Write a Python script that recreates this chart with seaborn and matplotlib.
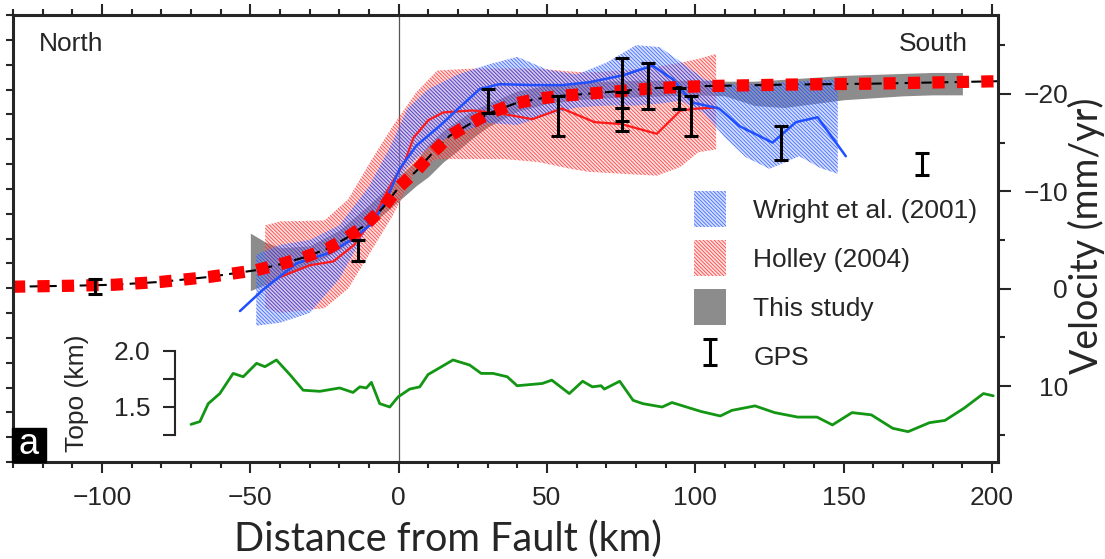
import numpy as np
import pandas as pd
import seaborn as sns
import matplotlib.pyplot as plt
from matplotlib.patches import Patch, Rectangle
from matplotlib.ticker import MultipleLocator

# model curve (black dashed line + red squares), velocity in mm/yr
model_x = [-130, -110, -96, -80, -64, -48, -40, -32, -24, -17.6, -11, -5.3, 0, 6, 11.6,
           17.2, 23.9, 31.2, 39.1, 47, 54.8, 63.2, 71, 86.8, 103, 130, 160, 202]
model_v = [-0.2, -0.3, -0.4, -0.7, -1.2, -1.9, -2.5, -3.2, -4.1, -5.2, -6.6, -8.3, -10.4, -12.1, -14.0,
           -15.7, -16.9, -18.1, -19.0, -19.5, -19.8, -20.0, -20.2, -20.6, -20.8, -20.95, -21.05, -21.3]

# "This study" grey band
study_x = [-50, -45, -40, -30, -20, -10, 0, 6, 10, 15, 20, 25, 30, 40, 50, 60, 70, 80, 90,
           100, 110, 120, 130, 140, 150, 160, 170, 180, 190]
study_hi = [-5.7, -4.8, -4.2, -4.4, -6.0, -8.6, -11.5, -13.2, -14.8, -16.2, -17.3, -18.3, -19.0, -20.3,
            -20.9, -21.2, -21.3, -21.4, -21.4, -21.4, -21.3, -21.3, -21.5, -21.7, -21.9, -22.0, -22.1, -22.2, -22.2]
study_lo = [0.2, -0.4, -1.1, -2.4, -4.0, -6.4, -9.0, -10.6, -11.5, -13.0, -14.2, -15.5, -16.6, -18.2,
            -19.0, -19.4, -19.6, -19.7, -19.8, -19.9, -19.8, -18.8, -18.6, -19.0, -19.4, -19.6, -19.8, -19.9, -19.9]

# Wright et al. (2001)
wright_x = [-48, -40, -30, -20, -10, -3, 3, 10, 20, 30, 40, 50, 60, 70, 80, 88, 95, 103,
            110, 117, 125, 135, 142, 148]
wright_hi = [-3.5, -4.5, -5.0, -6.5, -10.5, -14.5, -18.5, -20.5, -22.0, -23.0, -23.8, -22.5, -22.0,
             -23.2, -25.0, -24.8, -23.3, -21.5, -21.0, -21.0, -21.1, -21.3, -21.4, -21.5]
wright_lo = [3.8, 3.5, 2.5, -1.0, -6.5, -10.0, -12.5, -14.5, -16.0, -17.0, -16.8, -17.8, -18.6,
             -18.8, -18.8, -19.0, -19.3, -18.0, -15.5, -13.5, -12.3, -13.6, -12.4, -11.8]
wright_line_x = [-53.5, -45.7, -34.4, -23.2, -15.4, -8.6, -4.1, 0.3, 6, 13.8, 20.5, 27.3, 34, 45.2,
                 55.3, 64.3, 75.5, 85.6, 92.4, 99.1, 108, 114.8, 126, 133.9, 141.2, 150.7]
wright_line_v = [2.3, 0.1, -2.6, -3.7, -5.1, -6.8, -9.2, -12.3, -14.7, -16.7, -18.6, -20.5, -21.0, -20.9,
                 -20.9, -21.2, -21.9, -22.9, -21.5, -19.1, -18.5, -16.7, -15.0, -17.1, -17.6, -13.6]

# Holley (2004)
holley_x = [-45, -40, -25, -17, -9, -2, 6, 13, 25, 36, 47, 58, 64, 75, 87, 95, 101, 107]
holley_hi = [-6.5, -6.9, -7.0, -9.2, -13.3, -16.7, -20.2, -22.4, -22.6, -22.6, -22.6, -22.3, -22.2,
             -22.4, -22.8, -23.2, -23.6, -24.1]
holley_lo = [2.0, 2.5, 2.0, 0.0, -4.0, -7.5, -12.3, -13.3, -13.3, -13.3, -13.0, -12.3, -12.0,
             -11.8, -11.6, -12.5, -14.0, -14.3]
holley_line_x = [-40, -30, -22, -15, -8, -3, 2, 5, 10, 15, 25, 36, 45, 55, 66, 75, 87, 95, 101, 107]
holley_line_v = [-1.2, -2.4, -2.8, -4.5, -7.5, -10.5, -13.0, -15.5, -17.3, -18.1, -18.3, -17.9, -17.4,
                 -18.5, -17.1, -16.9, -15.9, -18.3, -18.5, -18.6]

# GPS velocities
gps_x = [-102.4, -13.7, 30.1, 53.7, 75.3, 75.3, 75.3, 84.0, 94.6, 98.5, 128.8, 176.3]
gps_v = [-0.2, -3.9, -19.25, -17.75, -21.1, -18.2, -17.85, -20.8, -19.5, -17.75, -14.95, -12.8]
gps_err = [0.8, 1.1, 1.25, 2.05, 2.6, 2.0, 0.65, 2.4, 1.1, 2.05, 1.75, 1.1]

# topography profile (km)
topo_x = [-70, -67, -64.2, -60.3, -55.8, -52.4, -47.9, -45.1, -41.2, -36.7, -32.2, -26.6, -19.9, -15.4,
          -13.1, -10.9, -9.2, -6.4, -3.0, -0.2, 3.7, 7.1, 9.9, 13.8, 18.3, 23.9, 27.8, 31.8, 36.6, 39.9,
          48.4, 51.6, 57.5, 62.0, 65.3, 68.2, 69.3, 74.5, 79.0, 82.3, 88.8, 92.1, 101.9, 108.4, 112.3,
          120.1, 126.7, 134.5, 141.0, 146.2, 152.8, 159.3, 166.5, 171.7, 178.9, 184.1, 190.6, 197.1, 200.4]
topo_e = [1.345, 1.37, 1.53, 1.62, 1.80, 1.77, 1.89, 1.86, 1.92, 1.79, 1.65, 1.64, 1.67, 1.63,
          1.68, 1.67, 1.72, 1.53, 1.50, 1.59, 1.66, 1.68, 1.79, 1.85, 1.92, 1.875, 1.80, 1.80, 1.77, 1.69,
          1.71, 1.74, 1.62, 1.73, 1.68, 1.69, 1.66, 1.73, 1.56, 1.53, 1.50, 1.54, 1.46, 1.42, 1.47,
          1.51, 1.45, 1.41, 1.41, 1.34, 1.45, 1.43, 1.31, 1.28, 1.36, 1.38, 1.49, 1.62, 1.60]

vel_ticks = [-20, -10, 0, 10]
topo_ticks = [1.25, 1.5, 1.75, 2.0]
topo_labels = ['', '1.5', '', '2.0']

sns.set_style("ticks")
plt.rcParams['font.family'] = ['Liberation Sans', 'DejaVu Sans']
plt.rcParams['hatch.linewidth'] = 0.6

W, H = 1105, 559
fig = plt.figure(figsize=(W / 100, H / 100), dpi=100)

def fx(px):
    return px / W

def fy(py):
    return 1 - py / H

ax = fig.add_axes([fx(13), fy(462), fx(998 - 13), (462 - 15) / H])
ax_t = ax.twinx()   # topography
ax_l = ax.twinx()   # left minor ticks + frame

blue_face = (0.55, 0.62, 1.0, 0.35)
blue_hatch = (0.0, 0.25, 1.0, 0.7)
red_face = (1.0, 0.6, 0.6, 0.3)
red_hatch = (1.0, 0.0, 0.0, 0.7)
hatch = '\\' * 9

ax.axvline(0, color='#555555', lw=0.9, zorder=0.5)
ax.fill_between(study_x, study_hi, study_lo, color='#8c8c8c', lw=0, zorder=1)
ax.fill_between(holley_x, holley_hi, holley_lo, facecolor=red_face, edgecolor=red_hatch,
                hatch=hatch, lw=0, zorder=2)
ax.fill_between(wright_x, wright_hi, wright_lo, facecolor=blue_face, edgecolor=blue_hatch,
                hatch=hatch, lw=0, zorder=3)
sns.lineplot(x=holley_line_x, y=holley_line_v, ax=ax, color='#ff1a1a', lw=1.6, zorder=4)
sns.lineplot(x=wright_line_x, y=wright_line_v, ax=ax, color='#1f4fff', lw=1.8, zorder=5)
sns.lineplot(x=model_x, y=model_v, ax=ax, color='k', lw=1.5, linestyle=(0, (5, 3)), zorder=6)
sns.lineplot(x=model_x, y=model_v, ax=ax, color='#ff0000', lw=8.8, linestyle=(0, (1, 1)), zorder=7)
gps = ax.errorbar(gps_x, gps_v, yerr=gps_err, fmt='none', ecolor='k', elinewidth=2.2,
                  capsize=4.7, capthick=2.2, zorder=8, label='GPS')

ax.set_xlim(-130, 202)
ax.set_ylim(17.8, -28.1)
ax.xaxis.set_major_locator(MultipleLocator(50))
ax.xaxis.set_minor_locator(MultipleLocator(10))
ax.tick_params(axis='x', which='both', top=True, bottom=True, direction='out', width=1.5,
               labelsize=19, pad=9)
ax.tick_params(axis='x', which='major', length=8)
ax.tick_params(axis='x', which='minor', length=4.3)

ax.yaxis.tick_right()
ax.set_yticks(vel_ticks)
ax.yaxis.set_minor_locator(MultipleLocator(5))
ax.tick_params(axis='y', which='both', left=False, right=True, direction='out', width=1.5,
               labelsize=19)
ax.tick_params(axis='y', which='major', length=9.4, pad=41)
ax.tick_params(axis='y', which='minor', length=5)
for s in ax.spines.values():
    s.set_visible(False)

sns.lineplot(x=topo_x, y=topo_e, ax=ax_t, color='#139613', lw=2)
ax_t.set_ylim(1.009, 5.0)
ax_t.axis('off')

ax_l.set_ylim(0, 18)
ax_l.set_yticks(range(19))
ax_l.yaxis.set_ticks_position('left')
ax_l.tick_params(axis='y', direction='out', length=5, width=1.5, labelleft=False, labelright=False)
for s in ax_l.spines.values():
    s.set_visible(True)
    s.set_linewidth(2.2)

# topo scale bar
ax_s = fig.add_axes([fx(175), fy(435), 0.001, (435 - 351) / H])
ax_s.set_ylim(1.25, 2.0)
ax_s.patch.set_visible(False)
for s in ['top', 'right', 'bottom']:
    ax_s.spines[s].set_visible(False)
ax_s.spines['left'].set_linewidth(1.5)
ax_s.set_xticks([])
ax_s.set_yticks(topo_ticks)
ax_s.set_yticklabels(topo_labels)
ax_s.tick_params(axis='y', length=8.6, width=1.5, pad=9, labelsize=19)

# legend
handles = [
    Patch(facecolor=blue_face, edgecolor=blue_hatch, hatch=hatch, lw=0, label='Wright et al. (2001)'),
    Patch(facecolor=red_face, edgecolor=red_hatch, hatch=hatch, lw=0, label='Holley (2004)'),
    Patch(facecolor='#8c8c8c', lw=0, label='This study'),
    gps,
]
ax.legend(handles=handles, loc='upper left', bbox_to_anchor=(fx(694), fy(191)),
          bbox_transform=fig.transFigure, frameon=False, fontsize=19, handlelength=1.2,
          handleheight=1.72, labelspacing=0.5, handletextpad=1.05, borderpad=0, borderaxespad=0)

# annotations
fig.text(fx(39), fy(44), 'North', ha='left', va='center', fontsize=19)
fig.text(fx(968), fy(44), 'South', ha='right', va='center', fontsize=19)
fig.add_artist(Rectangle((fx(12), fy(462)), fx(34), 34 / H, transform=fig.transFigure,
                         color='k', zorder=10))
fig.text(fx(29), fy(445), 'a', color='white', ha='center', va='center', fontsize=26, zorder=11)
fig.text(fx(77), fy(393), 'Topo (km)', rotation=90, ha='center', va='center', fontsize=19)
fig.text(fx(448), fy(551), 'Distance from Fault (km)', ha='center', va='baseline',
         fontsize=28.5, family=['Lato', 'DejaVu Sans'])
fig.text(fx(1105), fy(236), 'Velocity (mm/yr)', rotation=90, ha='right', va='center',
         fontsize=27, family=['Lato', 'DejaVu Sans'])

# right-hand tick labels are right-aligned, as in the original
fig.canvas.draw()
for lbl in ax.yaxis.get_ticklabels():
    lbl.set_horizontalalignment('right')

fig.savefig('out.png', dpi=100)
